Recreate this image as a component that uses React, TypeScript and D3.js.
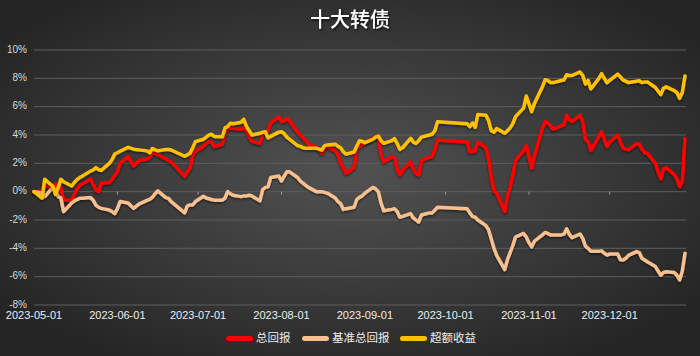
import React from "react";
import * as d3 from "d3";

const dates = [
  "2023-05-01","2023-05-04","2023-05-05","2023-05-08","2023-05-09","2023-05-10","2023-05-11","2023-05-12","2023-05-15","2023-05-16",
  "2023-05-17","2023-05-18","2023-05-19","2023-05-22","2023-05-23","2023-05-24","2023-05-25","2023-05-26","2023-05-29","2023-05-30",
  "2023-05-31","2023-06-01","2023-06-02","2023-06-05","2023-06-07","2023-06-09","2023-06-12","2023-06-13","2023-06-14","2023-06-15",
  "2023-06-16","2023-06-19","2023-06-20","2023-06-21","2023-06-26","2023-06-27","2023-06-28","2023-06-29","2023-06-30","2023-07-03",
  "2023-07-04","2023-07-05","2023-07-06","2023-07-07","2023-07-10","2023-07-11","2023-07-12","2023-07-13","2023-07-14","2023-07-17",
  "2023-07-18","2023-07-19","2023-07-20","2023-07-21","2023-07-24","2023-07-25","2023-07-26","2023-07-27","2023-07-28","2023-07-31",
  "2023-08-01","2023-08-02","2023-08-03","2023-08-04","2023-08-07","2023-08-08","2023-08-09","2023-08-10","2023-08-11","2023-08-14",
  "2023-08-15","2023-08-16","2023-08-17","2023-08-18","2023-08-21","2023-08-22","2023-08-23","2023-08-24","2023-08-25","2023-08-28",
  "2023-08-29","2023-08-30","2023-08-31","2023-09-01","2023-09-04","2023-09-05","2023-09-06","2023-09-07","2023-09-08","2023-09-11",
  "2023-09-12","2023-09-13","2023-09-14","2023-09-15","2023-09-18","2023-09-19","2023-09-20","2023-09-21","2023-09-22","2023-09-25",
  "2023-09-26","2023-09-27","2023-09-28","2023-10-09","2023-10-10","2023-10-11","2023-10-12","2023-10-13","2023-10-16","2023-10-17",
  "2023-10-18","2023-10-19","2023-10-20","2023-10-23","2023-10-24","2023-10-25","2023-10-26","2023-10-27","2023-10-30","2023-10-31",
  "2023-11-01","2023-11-02","2023-11-03","2023-11-06","2023-11-07","2023-11-08","2023-11-09","2023-11-10","2023-11-13","2023-11-14",
  "2023-11-15","2023-11-16","2023-11-17","2023-11-20","2023-11-21","2023-11-22","2023-11-23","2023-11-24","2023-11-27","2023-11-28",
  "2023-11-29","2023-11-30","2023-12-01","2023-12-04","2023-12-05","2023-12-06","2023-12-07","2023-12-08","2023-12-11","2023-12-12",
  "2023-12-13","2023-12-14","2023-12-15","2023-12-18","2023-12-19","2023-12-20","2023-12-21","2023-12-22","2023-12-25","2023-12-26",
  "2023-12-27","2023-12-28","2023-12-29"
];

// 总回报 (%)
const totalReturn = [
  0,0.05,0.45,0.25,0.55,-0.1,0.3,-0.6,-0.59,-0.2,
  0.2,0.45,0.55,0.9,0.5,0.15,0.0,0.6,0.65,0.85,
  1.15,1.4,2.0,2.47,1.8,2.2,2.3,2.45,2.75,2.7,
  2.62,2.3,2.2,2.1,1.08,1.4,1.65,2.6,2.85,3.2,
  3.4,3.55,3.5,3.18,3.35,4.2,4.47,4.5,4.47,4.4,
  4.55,4.3,3.85,3.55,3.41,4.1,4.23,4.3,4.85,5.3,
  4.95,5.0,5.18,5.0,4.2,4.0,3.8,3.6,3.35,3.15,
  2.95,2.7,3.1,3.18,2.9,2.6,2.0,1.7,1.3,1.7,
  3.1,3.2,3.3,3.45,3.76,3.85,3.95,2.6,2.12,2.45,
  2.4,1.6,1.18,1.5,2.1,1.6,1.3,1.18,2.2,2.43,
  2.47,3.0,3.65,3.5,2.82,2.82,2.9,3.5,3.1,2.3,
  1.0,0.05,-0.1,-1.4,-0.3,0.3,1.2,2.2,2.9,3.25,
  2.5,1.65,2.5,4.5,4.94,4.85,4.65,4.4,4.65,4.7,
  5.4,5.1,4.95,5.41,4.9,3.7,3.5,2.9,3.9,4.23,
  3.7,3.18,3.5,4.0,3.5,3.06,3.0,2.95,3.4,3.35,
  3.0,2.75,2.7,2.0,1.4,0.9,1.6,1.7,1.2,0.9,
  0.35,0.7,3.76
];

// 基准总回报 (%)
const benchmarkReturn = [
  0,-0.1,-0.35,0.3,0.05,-0.35,-0.45,-1.41,-0.8,-0.65,
  -0.55,-0.47,-0.47,-0.42,-0.6,-0.95,-1.1,-1.18,-1.3,-1.4,
  -1.55,-1.2,-0.7,-0.8,-1.18,-0.88,-0.62,-0.55,-0.4,-0.15,
  0.05,-0.42,-0.47,-0.7,-1.5,-1.0,-0.94,-0.94,-0.7,-0.33,
  -0.45,-0.5,-0.55,-0.6,-0.6,-0.45,0.0,-0.15,-0.25,-0.35,
  -0.3,-0.3,-0.25,-0.3,-0.65,0.15,0.3,0.35,1.0,1.1,
  0.75,1.1,1.4,1.4,1.0,0.75,0.6,0.45,0.3,0.0,
  0.0,0.0,-0.05,-0.1,-0.45,-0.7,-0.85,-1.25,-1.2,-1.1,
  -0.55,-0.4,-0.3,-0.1,0.3,0.2,0.0,-0.8,-1.35,-1.25,
  -1.2,-1.4,-1.8,-1.75,-1.55,-1.85,-2.0,-2.15,-1.65,-1.5,
  -1.5,-1.3,-1.1,-1.2,-1.5,-1.75,-1.8,-2.0,-2.4,-2.7,
  -3.35,-4.0,-4.5,-5.5,-4.8,-4.3,-3.8,-3.2,-2.95,-3.2,
  -3.6,-3.9,-3.5,-3.05,-2.88,-2.95,-3.05,-3.05,-3.05,-3.0,
  -2.62,-3.0,-3.25,-2.99,-3.3,-3.85,-4.0,-4.2,-4.2,-4.18,
  -4.35,-4.47,-4.4,-4.4,-4.8,-4.82,-4.7,-4.5,-4.23,-4.3,
  -4.7,-4.82,-4.95,-5.29,-5.6,-5.9,-5.7,-5.65,-5.7,-5.9,
  -6.23,-5.6,-4.35
];

// 超额收益 (%)
const excessReturn = [
  0,-0.45,0.87,0.38,-0.2,0.3,0.87,0.7,0.4,0.65,
  0.85,1.0,1.1,1.45,1.53,1.7,1.55,1.5,2.0,2.25,
  2.65,2.75,2.85,3.13,3.0,2.95,2.88,2.75,3.05,2.95,
  2.88,2.97,2.98,2.94,2.5,2.6,2.71,3.1,3.53,3.7,
  3.85,4.0,4.05,3.9,3.88,4.5,4.6,4.83,4.8,4.9,
  5.11,4.6,4.3,4.0,4.12,4.2,4.23,3.8,3.9,4.2,
  4.23,4.1,3.85,3.7,3.25,3.2,3.1,3.06,3.06,3.06,
  3.0,2.94,3.25,3.29,3.35,3.2,3.1,2.82,2.65,2.8,
  3.22,3.6,3.55,3.46,3.7,3.85,3.93,3.6,3.41,3.6,
  3.75,3.4,2.99,3.1,3.76,3.5,3.41,3.6,3.85,4.0,
  4.05,4.3,4.94,4.8,4.59,4.85,4.54,5.45,5.4,5.0,
  4.3,4.2,4.45,4.12,4.3,4.5,4.8,5.3,5.9,6.75,
  6.2,5.65,6.2,7.4,7.9,7.85,7.7,7.7,7.85,7.88,
  8.25,8.2,8.2,8.45,8.2,7.6,7.85,7.25,8.0,8.33,
  8.0,7.69,7.85,8.3,8.1,7.88,7.8,7.7,7.8,7.83,
  7.7,7.75,7.75,7.35,7.1,6.85,7.3,7.4,7.13,7.0,
  6.59,7.0,8.17
];

const yTicks = [-8, -6, -4, -2, 0, 2, 4, 6, 8, 10];
const xTickLabels = ["2023-05-01","2023-06-01","2023-07-01","2023-08-01","2023-09-01","2023-10-01","2023-11-01","2023-12-01"];
const seriesNames = ["总回报", "基准总回报", "超额收益"];
const seriesColors = ["#ff0000", "#f9c08f", "#ffc000"];
const title = "十大转债";

const W = 700, H = 356;
const parse = d3.timeParse("%Y-%m-%d");

export default function App() {
  const x = d3.scaleTime()
    .domain([parse(dates[0])!, parse(dates[dates.length - 1])!])
    .range([34, 685]);
  const y = d3.scaleLinear().domain([-8, 10]).range([305, 50]);
  const series = [totalReturn, benchmarkReturn, excessReturn];
  const line = d3.line<number>()
    .x((_, i) => x(parse(dates[i])!))
    .y((v) => y(v));

  const latin = "'Liberation Sans', Arial, sans-serif";
  const cjk = "'Noto Sans CJK SC', sans-serif";

  // legend layout
  const sw = 27, gapText = 3, gapItem = 13, charW = 11;
  const widths = seriesNames.map((n) => sw + gapText + n.length * charW);
  const total = widths.reduce((a, b) => a + b, 0) + gapItem * (widths.length - 1);
  let lx = W / 2 - total / 2;
  const legendItems = seriesNames.map((n, i) => {
    const item = { x: lx, name: n, color: seriesColors[i] };
    lx += widths[i] + gapItem;
    return item;
  });

  return (
    <svg width={W} height={H} style={{ position: "absolute", left: 0, top: 0 }}>
      <defs>
        <radialGradient id="bg" cx="50%" cy="48%" r="62%">
          <stop offset="0%" stopColor="#525252" />
          <stop offset="100%" stopColor="#252525" />
        </radialGradient>
        <filter id="lshadow" x="-5%" y="-20%" width="110%" height="140%">
          <feDropShadow dx="0" dy="1.5" stdDeviation="1.2" floodColor="#000" floodOpacity="0.55" />
        </filter>
        <filter id="tshadow" x="-10%" y="-30%" width="120%" height="160%">
          <feDropShadow dx="1" dy="1.5" stdDeviation="1" floodColor="#000" floodOpacity="0.8" />
        </filter>
      </defs>
      <rect x={0} y={0} width={W} height={H} fill="url(#bg)" />
      <text x={350} y={22} textAnchor="middle" dominantBaseline="middle" fill="#fff"
        fontFamily={cjk} fontSize={20} fontWeight={500} filter="url(#tshadow)">{title}</text>

      {yTicks.map((t) => (
        <g key={t}>
          <line x1={34} x2={686} y1={y(t)} y2={y(t)} stroke="#5e5e5e" strokeWidth={1} />
          <text x={27} y={y(t)} textAnchor="end" dominantBaseline="middle" fill="#d9d9d9"
            fontFamily={latin} fontSize={10}>{t + "%"}</text>
        </g>
      ))}

      {xTickLabels.map((d) => (
        <g key={d}>
          <line x1={x(parse(d)!)} x2={x(parse(d)!)} y1={y(0)} y2={y(0) + 3} stroke="#9a9a9a" strokeWidth={1} />
          <text x={x(parse(d)!)} y={316} textAnchor="middle" dominantBaseline="middle" fill="#eeeeee"
            fontFamily={latin} fontSize={11}>{d}</text>
        </g>
      ))}

      {series.map((s, i) => (
        <path key={i} d={line(s) || ""} fill="none" stroke={seriesColors[i]} strokeWidth={3.5}
          strokeLinejoin="round" strokeLinecap="round" filter="url(#lshadow)" />
      ))}

      {legendItems.map((it) => (
        <g key={it.name}>
          <rect x={it.x} y={336} width={sw} height={5} rx={2.5} fill={it.color} />
          <text x={it.x + sw + gapText} y={338.5} dominantBaseline="middle" fill="#eeeeee"
            fontFamily={cjk} fontSize={11.5}>{it.name}</text>
        </g>
      ))}
    </svg>
  );
}
